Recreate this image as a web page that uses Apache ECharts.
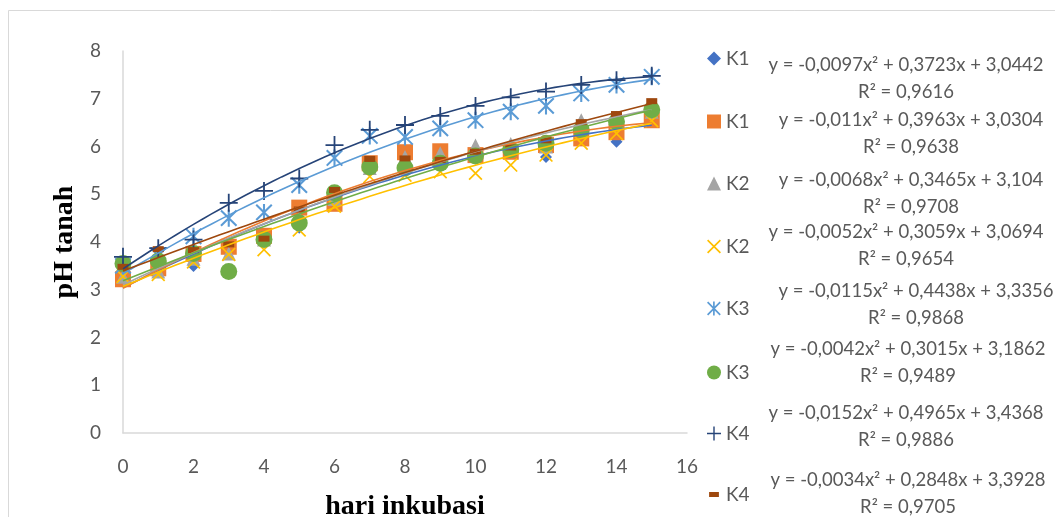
<!DOCTYPE html>
<html>
<head>
<meta charset="utf-8">
<script src="https://cdn.jsdelivr.net/npm/echarts@6/dist/echarts.min.js"></script>
<style>html,body{margin:0;padding:0;background:#fff;}#c{width:1055px;height:517px;}</style>
</head>
<body>
<div id="c"></div>
<script>
const days = [0,1,2,3,4,5,6,7,8,9,10,11,12,13,14,15];
const k1Diamond = [3.35,3.45,3.5,3.8,4.1,4.3,4.8,5.5,5.68,5.7,5.75,5.9,5.78,6.25,6.1,6.55];
const k1Square  = [3.22,3.45,3.75,3.9,4.13,4.72,4.8,5.65,5.88,5.9,5.82,5.89,6.03,6.17,6.3,6.55];
const k2Tri     = [3.27,3.38,3.65,3.76,4.05,4.5,4.9,5.55,5.78,5.86,6.02,6.05,6.0,6.55,6.6,6.73];
const k2X       = [3.28,3.32,3.58,3.74,3.84,4.25,4.75,5.37,5.4,5.47,5.44,5.61,5.82,6.07,6.27,6.54];
const k3Star    = [3.5,3.72,4.12,4.5,4.62,5.19,5.76,6.22,6.2,6.38,6.55,6.73,6.85,7.11,7.29,7.46];
const k3Circle  = [3.55,3.6,3.76,3.38,4.05,4.4,5.03,5.57,5.55,5.65,5.8,5.93,6.07,6.35,6.52,6.77];
const k4Plus    = [3.69,3.87,4.05,4.82,5.07,5.33,6.03,6.35,6.45,6.64,6.85,7.03,7.15,7.29,7.39,7.48];
const k4Dash    = [3.48,3.85,3.83,3.95,4.07,4.68,5.09,5.74,5.75,5.72,5.89,5.98,6.13,6.51,6.68,6.95];

const seriesLabels = ['K1','K1','K2','K2','K3','K3','K4','K4'];
// trendline coefficients as printed: y = a x^2 + b x + c
const coefA = [-0.0097,-0.011,-0.0068,-0.0052,-0.0115,-0.0042,-0.0152,-0.0034];
const coefB = [0.3723,0.3963,0.3465,0.3059,0.4438,0.3015,0.4965,0.2848];
const coefC = [3.0442,3.0304,3.104,3.0694,3.3356,3.1862,3.4368,3.3928];
const eqTexts = [
 'y = -0,0097x² + 0,3723x + 3,0442','y = -0,011x² + 0,3963x + 3,0304',
 'y = -0,0068x² + 0,3465x + 3,104','y = -0,0052x² + 0,3059x + 3,0694',
 'y = -0,0115x² + 0,4438x + 3,3356','y = -0,0042x² + 0,3015x + 3,1862',
 'y = -0,0152x² + 0,4965x + 3,4368','y = -0,0034x² + 0,2848x + 3,3928'];
const r2Texts = ['R² = 0,9616','R² = 0,9638','R² = 0,9708','R² = 0,9654','R² = 0,9868','R² = 0,9489','R² = 0,9886','R² = 0,9705'];
const yTicks = [0,1,2,3,4,5,6,7,8];
const xTicks = [0,2,4,6,8,10,12,14,16];

const allData = [k1Diamond,k1Square,k2Tri,k2X,k3Star,k3Circle,k4Plus,k4Dash];
const colors = ['#4472C4','#ED7D31','#A5A5A5','#FFC000','#5B9BD5','#70AD47','#264478','#9E480E'];

const X_PATH = 'path://M9.24,0.76 L99.24,90.76 L90.76,99.24 L0.76,9.24 Z M99.24,9.24 L9.24,99.24 L0.76,90.76 L90.76,0.76 Z';
const STAR_PATH = X_PATH + ' M44,0 L56,0 L56,100 L44,100 Z';
const PLUS_PATH = 'path://M0,45 L100,45 L100,55 L0,55 Z M45,0 L55,0 L55,100 L45,100 Z';
const DASH_ICON = 'path://M0,0 L0,0.01 Z M15,32 L85,32 L85,68 L15,68 Z M100,100 L100,99.99 Z';

const symbols = ['diamond','rect','triangle',X_PATH,STAR_PATH,'circle',PLUS_PATH,'rect'];
const sizes = [12,16,14,14,17,17,18,[11,6]];

const names = seriesLabels.map((s,i)=> s + '#' + i);
const series = [];
allData.forEach((arr,i)=>{
  series.push({
    name: names[i], type:'scatter', z: 2,
    symbol: symbols[i], symbolSize: sizes[i],
    itemStyle:{color: colors[i], opacity:1},
    data: days.map((d,j)=>[d, arr[j]])
  });
});
allData.forEach((arr,i)=>{
  const pts = [];
  for (let k=0;k<=60;k++){ const x = days[0] + (days[days.length-1]-days[0])*k/60; pts.push([x, coefA[i]*x*x + coefB[i]*x + coefC[i]]); }
  series.push({
    name: 'trend'+i, type:'line', z: 3, silent:true, showSymbol:false, symbol:'none',
    lineStyle:{color: colors[i], width:1.6}, data: pts
  });
});

const legendY = [58,121,183,246,308,372,433,494];
const legends = names.map((n,i)=>({
  orient:'vertical', left:702, top: legendY[i]-14, itemWidth:14, itemHeight:14,
  data:[ i===7 ? {name:n, icon:DASH_ICON} : {name:n} ], selectedMode:false,
  formatter: s => s.split('#')[0],
  textStyle:{color:'#595959', fontSize:19, fontFamily:'Lato'}
}));

const centers = [906,911,911,906,916,908,906,908];
const eqY = [65,120,180,232,291,349,413,480];
const graphics = [{
  type:'rect', shape:{x:8.5,y:10.5,width:1200,height:700},
  style:{fill:'none',stroke:'#d9d9d9',lineWidth:1}, silent:true
}];
eqTexts.forEach((t,i)=>{
  graphics.push({type:'text', x:centers[i], y:eqY[i]-13, style:{text:t+'\n'+r2Texts[i], textAlign:'center', textVerticalAlign:'top', font:'18.5px Lato', lineHeight:26.5, fill:'#595959'}});
});

const chart = echarts.init(document.getElementById('c'), null, {renderer:'canvas'});
chart.setOption({
  backgroundColor:'#fff',
  animation:false,
  grid:{left:123, top:51, width:564, height:382, containLabel:false, outerBoundsMode:'none'},
  xAxis:{type:'value', min:0, max:16, interval:2,
    axisLine:{show:true, lineStyle:{color:'#d9d9d9', width:1.5}}, axisTick:{show:false}, splitLine:{show:false},
    axisLabel:{color:'#595959', fontSize:19, fontFamily:'Lato', margin:24},
    name:'hari inkubasi', nameLocation:'middle', nameGap:60,
    nameTextStyle:{fontFamily:'Liberation Serif', fontWeight:'bold', fontSize:28, color:'#000'}},
  yAxis:{type:'value', min:0, max:8, interval:1,
    axisLine:{show:true, lineStyle:{color:'#d9d9d9', width:1.5}}, axisTick:{show:false}, splitLine:{show:false},
    axisLabel:{color:'#595959', fontSize:19, fontFamily:'Lato', margin:22},
    name:'pH tanah', nameLocation:'middle', nameGap:44, nameRotate:90,
    nameTextStyle:{fontFamily:'Liberation Serif', fontWeight:'bold', fontSize:28, color:'#000'}},
  legend: legends,
  graphic: graphics,
  series: series
});
</script>
</body>
</html>
